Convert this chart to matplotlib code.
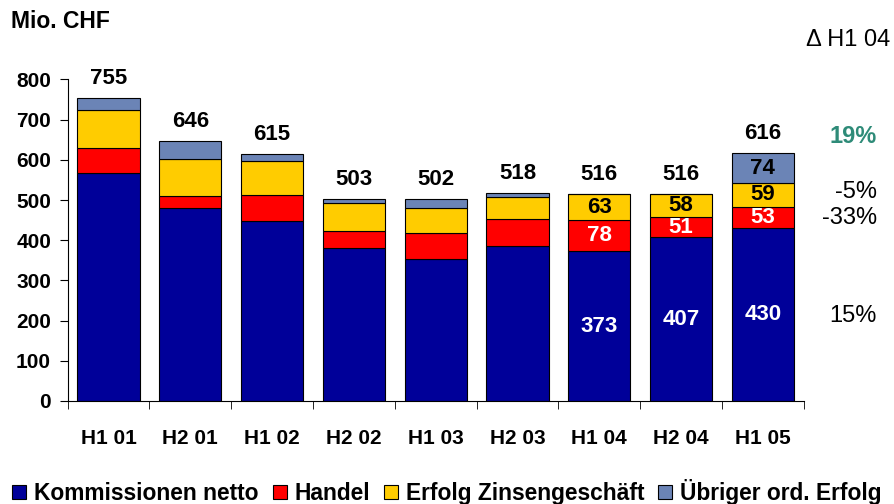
import matplotlib.pyplot as plt
import matplotlib.transforms as mtransforms
from matplotlib.patches import Patch
import numpy as np

plt.rcParams['font.family'] = ['Liberation Sans', 'DejaVu Sans']

periods = ['H1 01', 'H2 01', 'H1 02', 'H2 02', 'H1 03', 'H2 03', 'H1 04', 'H2 04', 'H1 05']
kommissionen = [568, 481, 449, 380, 354, 385, 373, 407, 430]
handel = [62, 30, 63, 43, 64, 67, 78, 51, 53]
zins = [95, 92, 85, 69, 63, 56, 63, 58, 59]
uebriger = [30, 43, 18, 11, 21, 10, 2, 0, 74]
totals = [755, 646, 615, 503, 502, 518, 516, 516, 616]

series_names = ['Kommissionen netto', 'Handel', 'Erfolg Zinsengeschäft', 'Übriger ord. Erfolg']
colors = ['#000099', '#FF0000', '#FFCC00', '#6B84B6']
label_colors = ['white', 'white', 'black', 'black']

# segment labels only shown for the last bars
labelled_bars = [6, 7, 8]
delta_labels = ['19%', '-5%', '-33%', '15%']
delta_y = [657, 520, 455, 211]

fig = plt.figure(figsize=(8.94, 5.04), dpi=100)
ax = fig.add_axes([0.0757, 0.2044, 0.8233, 0.638])

x = np.arange(len(periods))
series = [kommissionen, handel, zins, uebriger]
bottom = np.zeros(len(periods))
for vals, col, lc in zip(series, colors, label_colors):
    vals = np.array(vals, dtype=float)
    ax.bar(x, vals, 0.76, bottom=bottom, color=col, edgecolor='black', linewidth=0.8)
    for i in labelled_bars:
        if vals[i] >= 10:
            ax.text(x[i], bottom[i] + vals[i] / 2, str(int(vals[i])), ha='center', va='center',
                    color=lc, fontsize=16, fontweight='bold')
    bottom += vals

for i, t in enumerate(totals):
    ax.annotate(str(t), (x[i], t), xytext=(0, 14), textcoords='offset points',
                ha='center', va='center', fontsize=16, fontweight='bold')

ax.set_xlim(-0.5, len(periods) - 0.5)
ax.set_ylim(0, 800)
ax.set_yticks(range(0, 801, 100))
ax.set_xticks(x)
ax.set_xticklabels(periods, fontsize=15, fontweight='bold')
ax.set_xticks(np.arange(-0.5, len(periods)), minor=True)
ax.tick_params(axis='x', which='major', length=0, pad=20)
ax.tick_params(axis='x', which='minor', length=6, direction='out')
ax.tick_params(axis='y', length=6, direction='out', labelsize=15, pad=6)
for lbl in ax.get_yticklabels():
    lbl.set_fontweight('bold')
ax.spines['top'].set_visible(False)
ax.spines['right'].set_visible(False)

fig.text(11 / 894, 1 - 22 / 504, 'Mio. CHF', fontsize=16.5, fontweight='bold', va='center')
fig.text(890 / 894, 1 - 40 / 504, 'Δ H1 04', fontsize=17, ha='right', va='center')
side = mtransforms.blended_transform_factory(fig.transFigure, ax.transData)
for lab, yv in zip(delta_labels, delta_y):
    bold = lab == '19%'
    ax.text(877 / 894, yv, lab, transform=side, fontsize=17, ha='right', va='center',
            fontweight='bold' if bold else 'normal', color='#2E8B78' if bold else 'black',
            clip_on=False)

handles = [Patch(facecolor=c, edgecolor='black', linewidth=0.8) for c in colors]
fig.legend(handles, series_names, loc='center', bbox_to_anchor=(0.5, 1 - 492 / 504), ncol=4,
           frameon=False, handlelength=0.62, handleheight=0.62, handletextpad=0.35,
           columnspacing=0.6, borderaxespad=0, borderpad=0, prop={'size': 16.4, 'weight': 'bold'})

fig.savefig('out.png', dpi=100)
